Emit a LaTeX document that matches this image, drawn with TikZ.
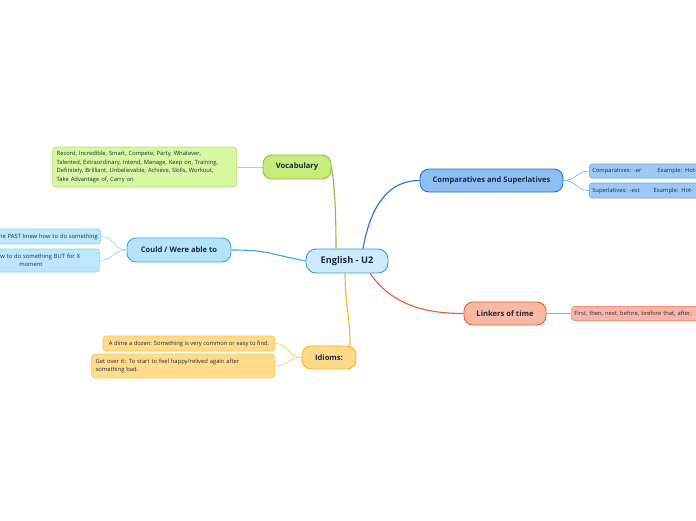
\documentclass[tikz,border=0pt]{standalone}
\usepackage{fontspec}
\setmainfont{Open Sans}
\usetikzlibrary{calc}
\definecolor{txt}{HTML}{1B2A3F}
\definecolor{cenF}{HTML}{CDEAFC}\definecolor{cenD}{HTML}{3F97D8}
\definecolor{vocF}{HTML}{C8EB7B}\definecolor{vocD}{HTML}{8CC031}
\definecolor{vlF}{HTML}{D9F7A0}\definecolor{vlD}{HTML}{B7E06B}
\definecolor{couF}{HTML}{B5E3F9}\definecolor{couD}{HTML}{3AA9E2}
\definecolor{clF}{HTML}{BDE6FB}\definecolor{clD}{HTML}{8DD0F2}
\definecolor{idiF}{HTML}{FFD98A}\definecolor{idiD}{HTML}{F4B71C}
\definecolor{ilF}{HTML}{FFDC8C}\definecolor{ilD}{HTML}{F8C653}
\definecolor{comF}{HTML}{8EBFF3}\definecolor{comD}{HTML}{2070D8}
\definecolor{mlF}{HTML}{9EC9F6}\definecolor{mlD}{HTML}{6BA8EC}
\definecolor{linF}{HTML}{F8B8A2}\definecolor{linD}{HTML}{EE5A30}
\definecolor{llF}{HTML}{FBB6A7}\definecolor{llD}{HTML}{F59178}
\begin{document}
\begin{tikzpicture}[x=1pt,y=-1pt,
  topic/.style={draw, line width=0.9pt, rounded corners=9pt, inner sep=0pt,
    text=txt, font=\fontsize{7.6}{9}\selectfont\bfseries},
  leaf/.style={draw, line width=0.6pt, rounded corners=3pt, inner sep=3pt,
    text=txt, font=\fontsize{5.8}{8.6}\selectfont},
  edge/.style={line width=1.1pt},
  thin/.style={line width=0.6pt}]
\useasboundingbox (0,0) rectangle (696,520);
\fill[white] (0,0) rectangle (696,520);

% central
\node[topic, fill=cenF, draw=cenD, minimum width=82pt, minimum height=24pt,
  font=\fontsize{9.2}{11}\selectfont\bfseries, rounded corners=10pt] (c) at (347,261) {English - U2};

% vocabulary
\node[topic, fill=vocF, draw=vocD, minimum width=68pt, minimum height=24pt] (v) at (297,167) {Vocabulary};
\node[leaf, fill=vlF, draw=vlD, anchor=east, minimum width=184pt, minimum height=40pt,
  align=left, text width=176pt] (vl) at (237,167)
  {Record, Incredible, Smart, Compete, Party, Whatever,\\
   Talented, Extraordinary, Intend, Manage, Keep on, Training,\\
   Definitely, Brilliant, Unbelievable, Achieve, Skills, Workout,\\
   Take Advantage of, Carry on};

% could
\node[topic, fill=couF, draw=couD, minimum width=104pt, minimum height=24pt] (w) at (179,250) {Could / Were able to};
\node[leaf, fill=clF, draw=clD, anchor=east, minimum height=15pt, text width=140pt,
  align=right] (w1) at (101,236.5) {the PAST knew how to do something};
\node[leaf, fill=clF, draw=clD, anchor=west, minimum height=23pt, text width=140pt,
  align=left] (w2) at (-47,260.5) {\hspace*{44pt}w to do something BUT for X\\\hspace*{63pt}moment};

% idioms
\node[topic, fill=idiF, draw=idiD, minimum width=54pt, minimum height=23pt] (i) at (329,357.5) {Idioms:};
\node[leaf, fill=ilF, draw=ilD, minimum width=172pt, minimum height=15pt] (i1) at (189,343.5)
  {A dime a dozen: Something is very common or easy to find.};
\node[leaf, fill=ilF, draw=ilD, anchor=east, minimum width=183pt, minimum height=24pt,
  text width=175pt, align=left] (i2) at (275,366)
  {Get over it: To start to feel happy/relived again after\\something bad.};

% comparatives
\node[topic, fill=comF, draw=comD, minimum width=143pt, minimum height=23pt] (m) at (491.5,180.5) {Comparatives and Superlatives};
\node[leaf, fill=mlF, draw=mlD, anchor=west, minimum height=14pt, text width=150pt,
  align=left] (m1) at (589,171) {Comparatives: -er\hspace{16pt}Example: Hot-};
\node[leaf, fill=mlF, draw=mlD, anchor=west, minimum height=15pt, text width=150pt,
  align=left] (m2) at (589,190.5) {Superlatives: -est\hspace{14pt}Example: Hot-};

% linkers
\node[topic, fill=linF, draw=linD, minimum width=82pt, minimum height=23pt] (l) at (505,313.5) {Linkers of time};
\node[leaf, fill=llF, draw=llD, anchor=west, minimum height=14pt, text width=190pt,
  align=left] (l1) at (571,313.5) {First, then, next, before, brefore that, after,};

% main edges
\draw[edge, vocD] ($(c.north)+(-11,0)$) .. controls +(0,-50) and +(2,12) .. (v.east);
\draw[edge, comD] ($(c.north)+(16,0)$) .. controls +(8,-45) and +(-30,0) .. (m.west);
\draw[edge, couD] (c.west) .. controls +(-40,-8) and +(35,0) .. (w.east);
\draw[edge, idiD] ($(c.south)+(-2,0)$) .. controls +(0,30) and +(0,-30) .. ($(i.north)+(21,0)$);
\draw[edge, linD] ($(c.south)+(23,0)$) .. controls +(20,28) and +(-45,0) .. (l.west);

% leaf connectors
\draw[thin, vlD] (v.west) -- (vl.east);
\draw[thin, clD] (w.west) .. controls +(-13,0) and +(13,0) .. (w1.east);
\draw[thin, clD] (w.west) .. controls +(-13,0) and +(13,0) .. (w2.east);
\draw[thin, ilD] (i.west) .. controls +(-13,0) and +(13,0) .. (i1.east);
\draw[thin, ilD] (i.west) .. controls +(-13,0) and +(13,0) .. (i2.east);
\draw[thin, mlD] (m.east) .. controls +(13,0) and +(-13,0) .. (m1.west);
\draw[thin, mlD] (m.east) .. controls +(13,0) and +(-13,0) .. (m2.west);
\draw[thin, llD] (l.east) -- (l1.west);
\end{tikzpicture}
\end{document}
